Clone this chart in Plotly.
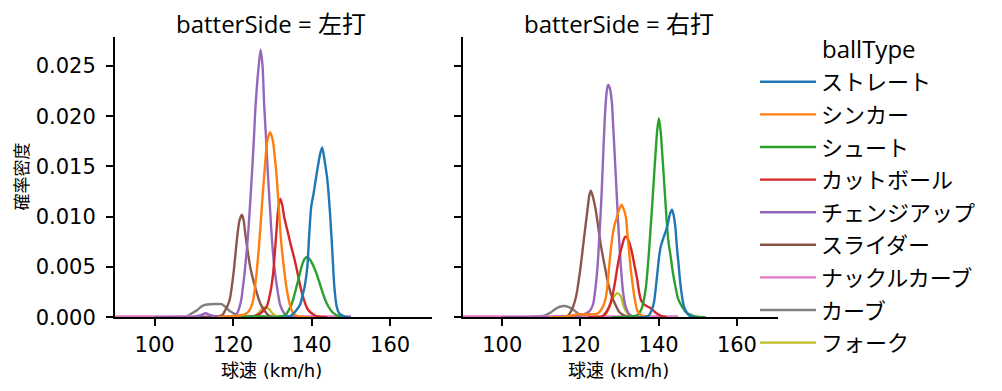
import plotly.graph_objects as go

# The page body has an 8px margin, so the figure is sized to fit the window exactly.
SCREEN_W, SCREEN_H = 1002, 391
OFF = 8
W, H = SCREEN_W - 2 * OFF, SCREEN_H - 2 * OFF
CJK = "Noto Sans CJK JP"
TICK_FONT = "DejaVu Sans, " + CJK
TITLE_FONT = "Open Sans, " + CJK

BALL_TYPES = ["ストレート", "シンカー", "シュート", "カットボール", "チェンジアップ",
              "スライダー", "ナックルカーブ", "カーブ", "フォーク"]
COLORS = ["#1f77b4", "#ff7f0e", "#2ca02c", "#d62728", "#9467bd",
          "#8c564b", "#e377c2", "#7f7f7f", "#bcbd22"]
PANELS = ["左打", "右打"]
X_TICKS = [100, 120, 140, 160]
Y_TICKS = [0.0, 0.005, 0.010, 0.015, 0.020, 0.025]
Y_TICK_LABELS = ["0.000", "0.005", "0.010", "0.015", "0.020", "0.025"]

# ---------------- 左打 (left panel) density curves ----------------
L_STRAIGHT_X = [133, 134.5, 135.4, 136.3, 137.1, 137.7, 138.2, 138.9, 139.4, 139.9, 140.5, 141.3,
                142.2, 142.7, 143.3, 144.0, 144.7, 145.3, 145.8, 146.4, 147.0, 147.7, 149, 150]
L_STRAIGHT_Y = [0.00003, 0.0001, 0.0004, 0.0008, 0.0013, 0.0022, 0.0030, 0.0050, 0.0083, 0.0110, 0.0123, 0.0143,
                0.0163, 0.0169, 0.0156, 0.0137, 0.0103, 0.0064, 0.0030, 0.00105, 0.0004, 0.0002, 0.00003, 0.0]

L_SINKER_X = [116, 118, 120, 122, 123, 124, 125, 125.5, 126, 126.5, 127, 127.5, 128, 128.7, 129.4,
              130.1, 130.6, 131.1, 131.7, 132.2, 132.8, 133.7, 134.5, 135.3, 136.5, 138, 140]
L_SINKER_Y = [0.00002, 0.00005, 0.0001, 0.0002, 0.0003, 0.0006, 0.0015, 0.0028, 0.0045, 0.0066, 0.0092, 0.0120,
              0.0145, 0.0175, 0.0184, 0.0176, 0.0160, 0.0140, 0.0105, 0.0077, 0.0054, 0.0027, 0.0012, 0.0004,
              0.0001, 0.00003, 0.0]

L_SHOOT_X = [118, 122, 125, 127, 129, 131, 132, 133.3, 134, 135, 136, 136.6, 137.5, 138.2, 138.9, 139.8,
             140.9, 141.8, 142.6, 143.5, 144.3, 145.3, 146.4, 148, 150]
L_SHOOT_Y = [0.0, 0.00003, 0.00008, 0.0001, 0.00005, 0.00003, 0.0001, 0.0002, 0.0006, 0.0014, 0.0028, 0.0037,
             0.0051, 0.0058, 0.0060, 0.0056, 0.0047, 0.0037, 0.0027, 0.0017, 0.00105, 0.0005, 0.0002, 0.00004, 0.0]

L_CUT_X = [122, 125, 127, 128.6, 129.5, 130.2, 130.9, 131.5, 132.0, 132.5, 133.0, 133.9, 134.7, 135.5,
           136.2, 137.0, 137.9, 139, 140, 141, 142, 144]
L_CUT_Y = [0.00002, 0.0001, 0.0004, 0.0011, 0.0025, 0.0044, 0.0078, 0.0108, 0.0118, 0.0112, 0.0100, 0.0085,
           0.0072, 0.0060, 0.0048, 0.0033, 0.0019, 0.0008, 0.0004, 0.00015, 0.00005, 0.0]

L_CHANGE_X = [100, 108, 110, 112, 113, 114, 116, 118, 120, 121, 122, 122.4, 123, 123.7, 124.2, 124.8,
              125.3, 125.7, 126.4, 127.0, 127.5, 127.9, 128.4, 128.85, 129.4, 129.9, 130.5, 131.3, 132,
              133, 134, 136, 140]
L_CHANGE_Y = [0.0, 0.00001, 0.00004, 0.00025, 0.0004, 0.00025, 0.00005, 0.00005, 0.00015, 0.0004, 0.0016,
              0.0027, 0.0047, 0.0077, 0.0105, 0.0143, 0.0178, 0.0209, 0.0245, 0.0266, 0.0250, 0.0212, 0.0177,
              0.0143, 0.0108, 0.0077, 0.0050, 0.0027, 0.0012, 0.0004, 0.0001, 0.00002, 0.0]

L_SLIDER_X = [110, 114, 116, 117.2, 118, 119.1, 120.1, 120.96, 121.6, 122.24, 122.7, 123.1, 123.7, 124.35,
              125.2, 126.05, 127, 128.2, 129, 130, 132]
L_SLIDER_Y = [0.00001, 0.00002, 0.0001, 0.0002, 0.0007, 0.0017, 0.0044, 0.0077, 0.0096, 0.0102, 0.0096,
              0.0083, 0.0066, 0.0050, 0.0036, 0.0024, 0.0013, 0.00056, 0.0002, 0.00005, 0.0]

L_KNUCKLE_X = [89.9, 100, 110, 120, 130, 140, 150]
L_KNUCKLE_Y = [0.00008, 0.00008, 0.00008, 0.00008, 0.00008, 0.00008, 0.00008]

L_CURVE_X = [95, 100, 104, 106, 108.2, 109.5, 110.8, 112, 113, 114.2, 115.5, 117.1, 118.4, 119.2, 120.1,
             121, 122, 124]
L_CURVE_Y = [0.0, 0.00001, 0.00003, 0.00006, 0.0001, 0.0004, 0.0007, 0.0011, 0.00125, 0.0013, 0.00132,
             0.0013, 0.0009, 0.0006, 0.0004, 0.0002, 0.00005, 0.0]

L_FORK_X = [124, 125.5, 126.5, 127.5, 128.3, 129.2, 130, 131, 132, 133]
L_FORK_Y = [0.0, 0.0001, 0.0004, 0.0009, 0.0010, 0.0008, 0.0004, 0.00012, 0.00002, 0.0]

# ---------------- 右打 (right panel) density curves ----------------
R_STRAIGHT_X = [135, 136.5, 137.5, 138.2, 138.8, 139.6, 140.1, 140.5, 141.3, 142.1, 142.9, 143.4, 143.9,
                144.3, 144.7, 145.1, 145.5, 146.0, 146.5, 147.3, 148, 150]
R_STRAIGHT_Y = [0.0, 0.00005, 0.0002, 0.0007, 0.0015, 0.0042, 0.0060, 0.0070, 0.0080, 0.0089, 0.0103, 0.0107,
                0.0100, 0.0088, 0.0068, 0.0052, 0.0035, 0.0020, 0.0010, 0.0004, 0.0001, 0.0]

R_SINKER_X = [112, 116, 118, 120, 122, 123.5, 124.5, 125.2, 125.9, 126.5, 127.0, 127.3, 127.7, 128.0, 128.6,
              129.2, 129.8, 130.5, 131.0, 131.6, 132.0, 132.4, 132.8, 133.3, 133.9, 134.5, 135.5, 137]
R_SINKER_Y = [0.0, 0.00003, 0.0002, 0.0003, 0.0003, 0.0003, 0.0004, 0.0007, 0.0012, 0.0020, 0.0035, 0.0049,
              0.0065, 0.0075, 0.0090, 0.0098, 0.0106, 0.0112, 0.0108, 0.0100, 0.0083, 0.0067, 0.0050, 0.0034,
              0.0018, 0.0007, 0.0002, 0.00005]

R_SHOOT_X = [128, 130, 132, 133.5, 134.5, 135.3, 135.8, 136.7, 137.5, 137.9, 138.37, 138.8, 139.2, 139.6,
             140.05, 140.5, 140.9, 141.3, 141.75, 142.2, 142.6, 143.0, 143.6, 144.3, 145.0, 146.0, 147.3,
             148.5, 150, 152]
R_SHOOT_Y = [0.0, 0.00001, 0.00003, 0.0001, 0.0002, 0.0006, 0.00105, 0.0029, 0.0064, 0.0087, 0.0113, 0.0140,
             0.0163, 0.0185, 0.0198, 0.0185, 0.0163, 0.0140, 0.0113, 0.0087, 0.0072, 0.0062, 0.0045, 0.0030,
             0.0018, 0.00105, 0.0004, 0.0002, 0.00005, 0.0]

R_CUT_X = [122, 124, 125.6, 126.9, 127.6, 128.2, 128.8, 129.45, 130.1, 130.7, 131.4, 132.0, 132.6, 133.3,
           133.9, 134.5, 135.0, 135.5, 136.2, 137.0, 138.0, 138.8, 139.8, 140.9, 142]
R_CUT_Y = [0.0, 0.00003, 0.0001, 0.0007, 0.0013, 0.0022, 0.0034, 0.0050, 0.0063, 0.0072, 0.0080, 0.0079,
           0.0073, 0.0062, 0.0050, 0.0038, 0.0025, 0.0017, 0.0013, 0.0011, 0.0009, 0.0006, 0.0003, 0.0001,
           0.00002]

R_CHANGE_X = [100, 110, 114, 118, 120, 121.5, 122.2, 122.8, 123.3, 123.8, 124.36, 124.9, 125.4, 125.9, 126.4,
              126.8, 127.1, 127.5, 128.0, 128.4, 128.8, 129.3, 129.8, 130.3, 130.9, 131.6, 132.5, 134, 136]
R_CHANGE_Y = [0.0, 0.00001, 0.00003, 0.00008, 0.0002, 0.0004, 0.00056, 0.0009, 0.0014, 0.0028, 0.0050, 0.0085,
              0.0122, 0.0170, 0.0210, 0.0227, 0.0231, 0.0228, 0.0215, 0.0188, 0.0158, 0.0120, 0.0083, 0.0052,
              0.0025, 0.0010, 0.0003, 0.00005, 0.0]

R_SLIDER_X = [108, 112, 115, 116.6, 117.6, 118.84, 119.93, 120.95, 121.8, 122.3, 122.66, 123.1, 123.9, 124.5,
              125.2, 126.0, 126.9, 127.8, 129.0, 130, 131.1, 132.5, 134]
R_SLIDER_Y = [0.0, 0.00002, 0.00005, 0.0001, 0.0006, 0.0020, 0.0047, 0.0080, 0.0107, 0.0122, 0.0126, 0.0121,
              0.0107, 0.0091, 0.0072, 0.0055, 0.0037, 0.0023, 0.0012, 0.0005, 0.0002, 0.00005, 0.0]

R_KNUCKLE_X = [89.9, 100, 110, 120, 130, 140, 145]
R_KNUCKLE_Y = [0.00008, 0.00008, 0.00008, 0.00008, 0.00008, 0.00008, 0.00008]

R_CURVE_X = [100, 106, 109, 111, 112.5, 113.5, 114.7, 115.9, 117, 118, 119, 120, 121, 122, 124]
R_CURVE_Y = [0.0, 0.00002, 0.0001, 0.0002, 0.0005, 0.0008, 0.00105, 0.00112, 0.00102, 0.0008, 0.0005, 0.0002,
             0.0001, 0.00003, 0.0]

R_FORK_X = [124, 125.5, 126.5, 127.2, 127.75, 128.6, 129.45, 130.3, 131.1, 132.0, 133, 134]
R_FORK_Y = [0.0, 0.00005, 0.0003, 0.0009, 0.0014, 0.0021, 0.0024, 0.0021, 0.00105, 0.0004, 0.0001, 0.0]

LEFT = [(L_STRAIGHT_X, L_STRAIGHT_Y), (L_SINKER_X, L_SINKER_Y), (L_SHOOT_X, L_SHOOT_Y),
        (L_CUT_X, L_CUT_Y), (L_CHANGE_X, L_CHANGE_Y), (L_SLIDER_X, L_SLIDER_Y),
        (L_KNUCKLE_X, L_KNUCKLE_Y), (L_CURVE_X, L_CURVE_Y), (L_FORK_X, L_FORK_Y)]
RIGHT = [(R_STRAIGHT_X, R_STRAIGHT_Y), (R_SINKER_X, R_SINKER_Y), (R_SHOOT_X, R_SHOOT_Y),
         (R_CUT_X, R_CUT_Y), (R_CHANGE_X, R_CHANGE_Y), (R_SLIDER_X, R_SLIDER_Y),
         (R_KNUCKLE_X, R_KNUCKLE_Y), (R_CURVE_X, R_CURVE_Y), (R_FORK_X, R_FORK_Y)]

fig = go.Figure()
for p, series in enumerate([LEFT, RIGHT]):
    xa = "x" if p == 0 else "x2"
    ya = "y" if p == 0 else "y2"
    for i in reversed(range(len(BALL_TYPES))):
        xs, ys = series[i]
        fig.add_trace(go.Scatter(
            x=xs, y=ys, mode="lines", name=BALL_TYPES[i],
            line=dict(color=COLORS[i], width=2.4, shape="spline", smoothing=0.7),
            legendgroup=BALL_TYPES[i], showlegend=(p == 0), legendrank=i + 1,
            xaxis=xa, yaxis=ya, hoverinfo="skip"))


def fx(p):
    """screen pixel x -> paper fraction"""
    return (p - OFF) / W


def fy(p):
    """screen pixel y -> paper fraction"""
    return 1 - (p - OFF) / H


axis_common = dict(ticks="outside", ticklen=7, tickwidth=2, tickcolor="black",
                   showline=True, linewidth=2, linecolor="black", showgrid=False,
                   zeroline=False, automargin=False,
                   tickfont=dict(size=21, color="black", family=TICK_FONT))

ydom = [fy(317.3), fy(36.7)]
fig.update_layout(
    width=W, height=H, margin=dict(l=0, r=0, t=0, b=0),
    paper_bgcolor="white", plot_bgcolor="white",
    font=dict(family=CJK, size=21, color="black"),
    xaxis=dict(domain=[fx(115), fx(431.7)], range=[89.9, 170.6], tickvals=X_TICKS,
               anchor="y", **axis_common),
    xaxis2=dict(domain=[fx(462.7), fx(778.4)], range=[89.9, 170.6], tickvals=X_TICKS,
                anchor="y2", matches="x", **axis_common),
    yaxis=dict(domain=ydom, range=[0, 0.0279], tickvals=Y_TICKS, ticktext=Y_TICK_LABELS,
               anchor="x", ticklabelstandoff=6, **axis_common),
    yaxis2=dict(domain=ydom, range=[0, 0.0279], tickvals=Y_TICKS, showticklabels=False,
                anchor="x2", matches="y", **axis_common),
    legend=dict(x=fx(755), y=fy(61), xanchor="left", yanchor="top",
                font=dict(size=22, family=CJK, color="black"),
                tracegroupgap=1, itemwidth=56, bgcolor="rgba(0,0,0,0)"),
    showlegend=True,
)

annotations = []
centers = [(115 + 431.7) / 2, (462.7 + 778.4) / 2]
for p, side in enumerate(PANELS):
    annotations.append(dict(text=f"batterSide = {side}", x=fx(centers[p] - 2), y=fy(23.5),
                            xref="paper", yref="paper", showarrow=False, borderpad=0,
                            xanchor="center", yanchor="middle",
                            font=dict(size=24, family=TITLE_FONT)))
    annotations.append(dict(text="球速 (km/h)", x=fx(centers[p] - 2), y=fy(370),
                            xref="paper", yref="paper", showarrow=False,
                            xanchor="center", yanchor="middle",
                            font=dict(size=18, family=TICK_FONT)))
annotations.append(dict(text="確率密度", x=fx(19.5), y=fy(177), xref="paper", yref="paper",
                        showarrow=False, textangle=-90, xanchor="center", yanchor="middle",
                        borderpad=0, font=dict(size=17, family=CJK)))
annotations.append(dict(text="ballType", x=fx(820), y=fy(48), xref="paper", yref="paper",
                        showarrow=False, xanchor="left", yanchor="middle",
                        font=dict(size=24, family=TITLE_FONT)))
fig.update_layout(annotations=annotations)

fig.write_html("out.html")
